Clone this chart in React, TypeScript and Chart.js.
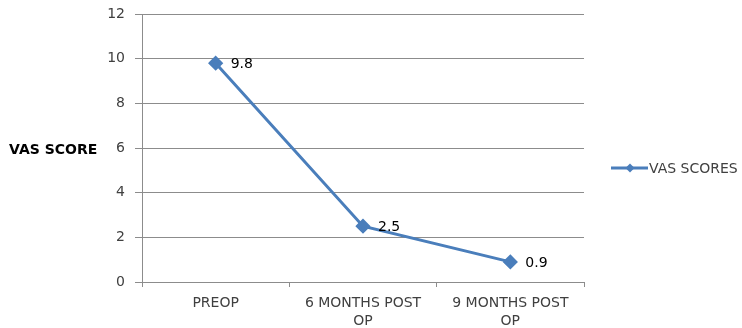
import React, { useEffect, useRef } from "react";
import { Chart, registerables } from "chart.js";

Chart.register(...registerables);

const categories: (string | string[])[] = ["PREOP", ["6 MONTHS POST", "OP"], ["9 MONTHS POST", "OP"]];
const vasScores = [9.8, 2.5, 0.9];
const seriesName = "VAS SCORES";
const yAxisTitle = "VAS SCORE";
const yMin = 0;
const yMax = 12;
const yStep = 2;

const LINE = "#4A7EBB";
const GRID = "#8C8C8C";
const TEXT = "#404040";
const FONT = "'DejaVu Sans', sans-serif";

const extras = {
  id: "extras",
  afterDatasetsDraw(chart: any) {
    const ctx = chart.ctx;
    const area = chart.chartArea;
    ctx.save();
    const meta = chart.getDatasetMeta(0);
    ctx.font = `14px ${FONT}`;
    ctx.fillStyle = "#000";
    ctx.textAlign = "left";
    ctx.textBaseline = "middle";
    meta.data.forEach((pt: any, i: number) => {
      ctx.fillText(String(vasScores[i]), pt.x + 15, pt.y + 1);
    });
    ctx.font = `bold 14px ${FONT}`;
    ctx.fillStyle = "#000";
    ctx.textAlign = "left";
    ctx.fillText(yAxisTitle, 9, (area.top + area.bottom) / 2 + 2);
    const ly = 168;
    ctx.strokeStyle = LINE;
    ctx.lineWidth = 3;
    ctx.beginPath();
    ctx.moveTo(611, ly);
    ctx.lineTo(648, ly);
    ctx.stroke();
    ctx.fillStyle = LINE;
    ctx.beginPath();
    ctx.moveTo(630, ly - 4.5);
    ctx.lineTo(634.5, ly);
    ctx.lineTo(630, ly + 4.5);
    ctx.lineTo(625.5, ly);
    ctx.closePath();
    ctx.fill();
    ctx.font = `14px ${FONT}`;
    ctx.fillStyle = TEXT;
    ctx.textAlign = "left";
    ctx.fillText(seriesName, 649, ly + 1);
    ctx.restore();
  },
};

export default function App() {
  const ref = useRef<HTMLCanvasElement>(null);
  useEffect(() => {
    if (!ref.current) return;
    const chart = new Chart(ref.current, {
      type: "line",
      data: {
        labels: categories,
        datasets: [
          {
            label: seriesName,
            data: vasScores,
            borderColor: LINE,
            backgroundColor: LINE,
            borderWidth: 3,
            pointStyle: "rectRot",
            pointRadius: 5.5,
            pointHoverRadius: 5.5,
            tension: 0,
          },
        ],
      },
      options: {
        responsive: false,
        animation: false,
        layout: { padding: { left: 0, right: 158, top: 14, bottom: 0 } },
        plugins: { legend: { display: false }, tooltip: { enabled: false } },
        scales: {
          x: {
            type: "category",
            offset: true,
            afterFit: (s: any) => { s.height = 46; s.paddingLeft = 0; s.paddingRight = 0; },
            grid: { drawOnChartArea: false, drawTicks: true, tickLength: 5, color: GRID, offset: true },
            border: { color: GRID, width: 1 },
            ticks: { color: TEXT, font: { family: FONT, size: 14, lineHeight: 1.3 }, padding: 7, maxRotation: 0, autoSkip: false },
          },
          y: {
            min: yMin,
            max: yMax,
            afterFit: (s: any) => { s.width = 142; s.paddingTop = 0; s.paddingBottom = 0; },
            grid: { color: GRID, tickLength: 7, drawTicks: true },
            border: { color: GRID, width: 1 },
            ticks: { stepSize: yStep, color: TEXT, font: { family: FONT, size: 14 }, padding: 10 },
          },
        },
      },
      plugins: [extras],
    });
    return () => chart.destroy();
  }, []);
  return (
    <div style={{ position: "absolute", left: 0, top: 0, width: 742, height: 328, background: "#fff" }}>
      <canvas ref={ref} width={742} height={328} />
    </div>
  );
}
